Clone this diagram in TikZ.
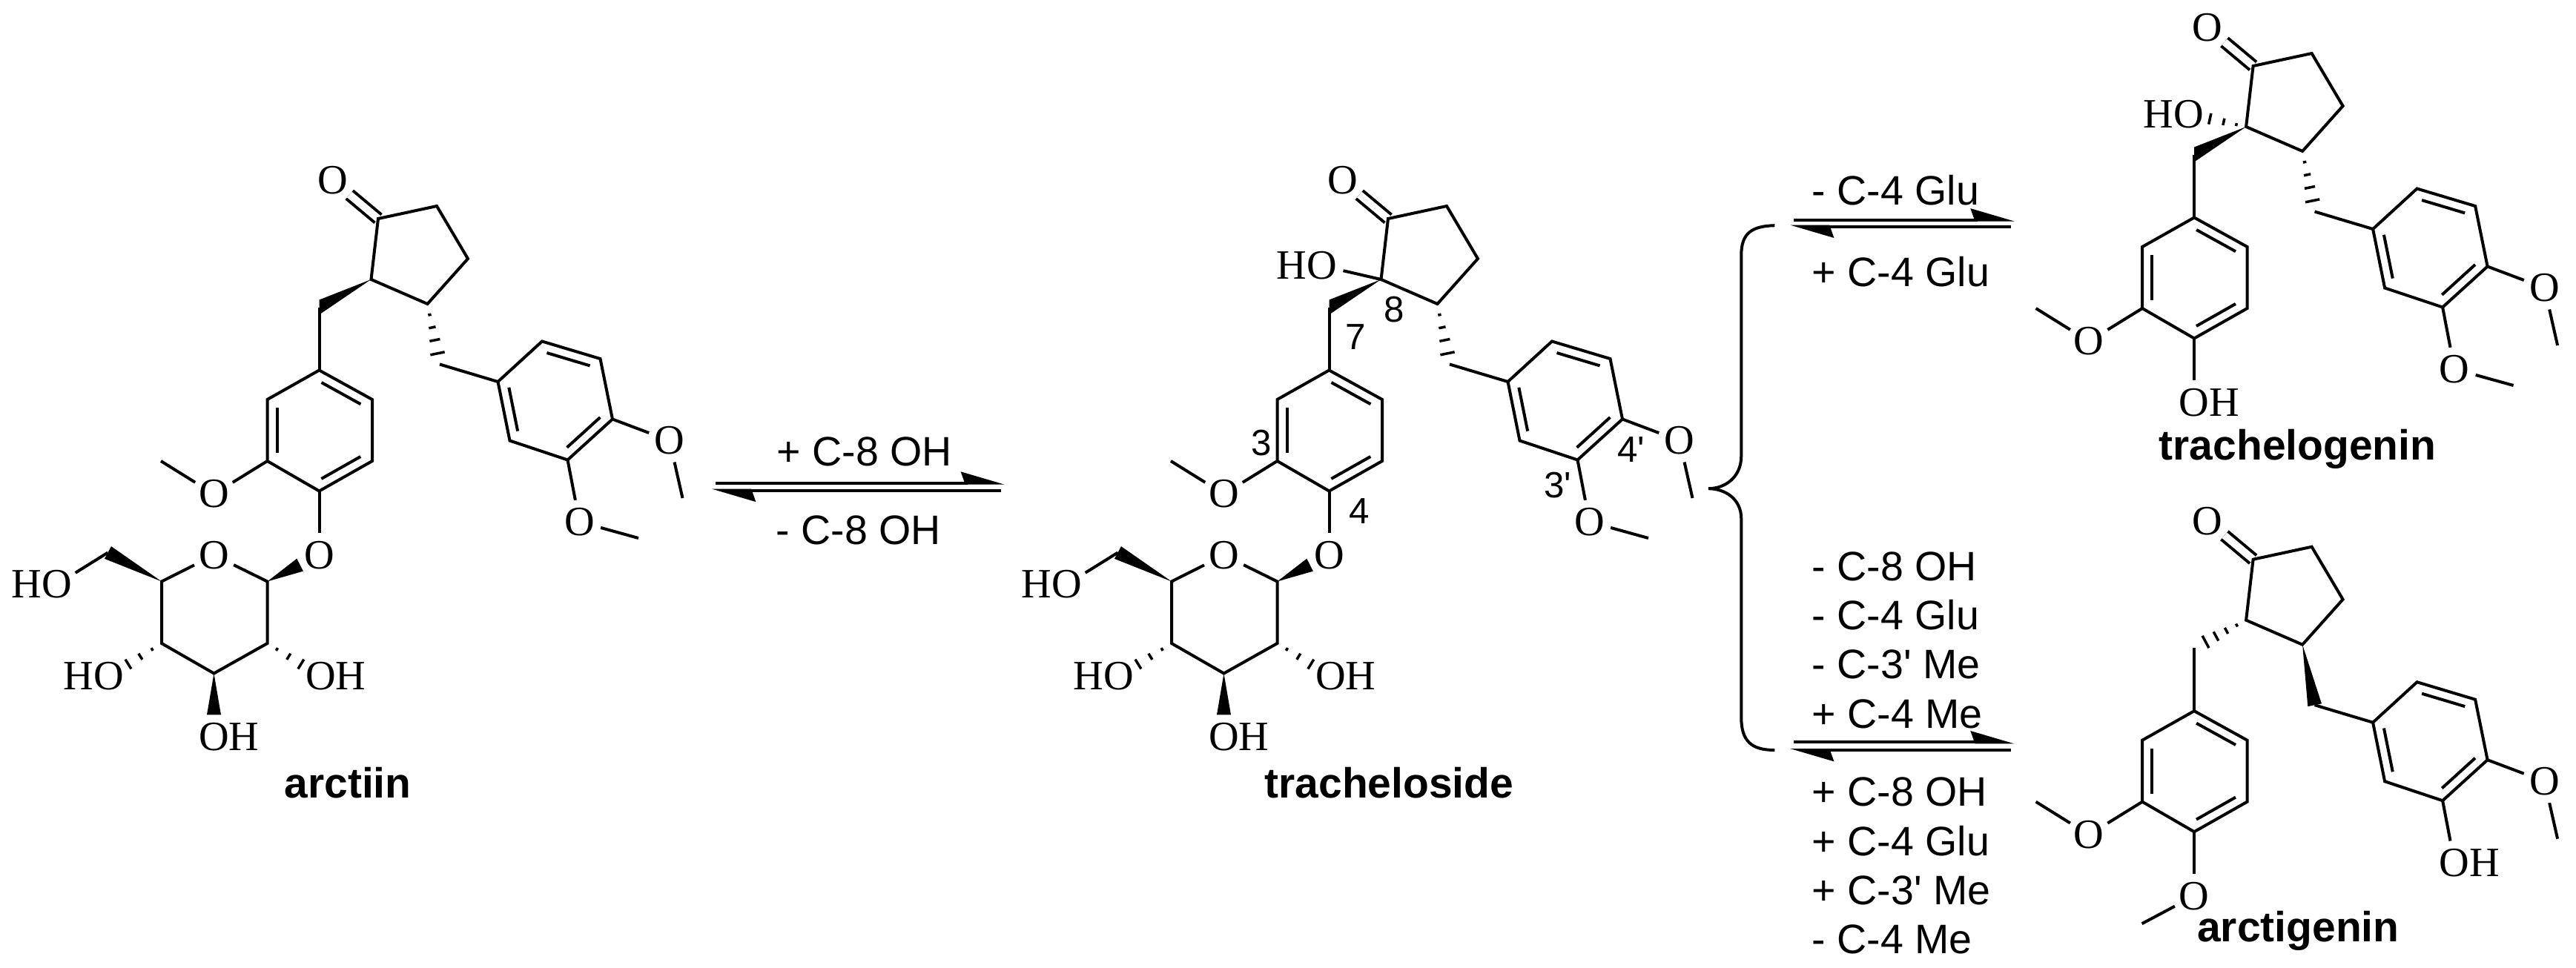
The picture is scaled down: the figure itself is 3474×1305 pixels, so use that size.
\documentclass[tikz,border=0pt]{standalone}
\usepackage{fontspec}
\setmainfont{Liberation Serif}
\setsansfont{Liberation Sans}
\usetikzlibrary{arrows.meta, calc, positioning}

% inner line of a ring double bond, ring walked clockwise
\newcommand{\innerbond}[2]{%
  \draw[bond] ($(#1)!.13!(#2)!.13cm!-90:(#2)$) -- ($(#2)!.13!(#1)!.13cm!90:(#1)$);}
\newcommand{\wedgebond}[3][1]{%
  \fill (#2) -- ($(#2)!#1!(#3)!.095cm!90:(#2)$) -- ($(#2)!#1!(#3)!.095cm!-90:(#2)$) -- cycle;}
\newcommand{\wedgeflat}[2]{%
  \fill (#1) -- ([yshift=.1cm]#2) -- ([yshift=-.1cm]#2) -- cycle;}
\newcommand{\hashbond}[3][.18,.39,.6,.82]{%
  \foreach \pos in {#1} {
    \pgfmathsetmacro{\hw}{3.4*\pos}
    \draw[hash] ($(#2)!\pos!(#3)!\hw pt!90:(#3)$) -- ($(#2)!\pos!(#3)!\hw pt!-90:(#3)$);
  }}

% the part all four molecules share
\newcommand{\lignan}{%
  \coordinate (C1) at (510,295);
  \coordinate (C2) at (589,278);
  \coordinate (C3) at (631,349);
  \coordinate (C4) at (576.5,410);
  \coordinate (C5) at (500.5,377);
  \coordinate (Ca) at (430.5,414.5);
  \coordinate (Cb) at (593,491.5);
  \coordinate (A1) at (430.5,499.5);
  \coordinate (A2) at (502,539);
  \coordinate (A3) at (502,622);
  \coordinate (A4) at (430.5,662.5);
  \coordinate (A5) at (360.5,622);
  \coordinate (A6) at (360.5,539);
  \coordinate (B1) at (671.5,515);
  \coordinate (B2) at (731,460.5);
  \coordinate (B3) at (809.5,484);
  \coordinate (B4) at (826,565.5);
  \coordinate (B5) at (765.5,620.5);
  \coordinate (B6) at (687.5,594.5);
  \coordinate (MeA) at (217,622);
  \coordinate (MeB) at (920.5,672);
  \node[atom] (Oket) at (448.5,243.5) {O};
  \node[atom] (OA5) at (288.5,666.5) {O};
  \node[atom] (OA4) at (430.5,749) {O};
  \node[atom] (OB4) at (903,594.5) {O};
  \node[atom] (OB5) at (781.5,704) {O};
  \draw[bond, double, double distance=.1cm] (C1) -- (Oket);
  \draw[bond] (C1) -- (C2) -- (C3) -- (C4) -- (C5) -- cycle;
  \draw[bond] (Ca) -- (A1);
  \draw[bond] (Cb) -- (B1);
  \draw[bond] (A1) -- (A2) -- (A3) -- (A4) -- (A5) -- (A6) -- cycle;
  \innerbond{A1}{A2}
  \innerbond{A3}{A4}
  \innerbond{A5}{A6}
  \draw[bond] (B1) -- (B2) -- (B3) -- (B4) -- (B5) -- (B6) -- cycle;
  \innerbond{B2}{B3}
  \innerbond{B4}{B5}
  \innerbond{B6}{B1}
  \draw[bond] (A5) -- (OA5);
  \draw[bond] (OA5) -- (MeA);
  \draw[bond] (A4) -- (OA4);
  \draw[bond] (B4) -- (OB4);
  \draw[bond] (OB4) -- (MeB);
  \draw[bond] (B5) -- (OB5);
}

% glucose hanging from the C-4 oxygen
\newcommand{\glucose}{%
  \coordinate (S1) at (360.5,784.5);
  \coordinate (S2) at (360.5,868);
  \coordinate (S3) at (288.5,908.5);
  \coordinate (S4) at (218,868);
  \coordinate (S5) at (218,784.5);
  \coordinate (S6) at (145.5,745.5);
  \node[atom] (Oring) at (288.5,749) {O};
  \node[atom] (O2) at (432.5,912.5) {O};
  \node[hatom, right=-.1cm of O2] (H2) {H};
  \node[atom] (O3) at (288.5,994.5) {O};
  \node[hatom, right=-.1cm of O3] (H3) {H};
  \node[atom] (O4) at (146.5,912.5) {O};
  \node[hatom, left=-.1cm of O4] (H4) {H};
  \node[atom] (O6) at (76.5,788.5) {O};
  \node[hatom, left=-.1cm of O6] (H6) {H};
  \draw[bond] (Oring) -- (S1) -- (S2) -- (S3) -- (S4) -- (S5) -- (Oring);
  \draw[bond] (S6) -- (O6);
  \wedgebond[.63]{S1}{OA4}
  \wedgebond{S5}{S6}
  \wedgebond[.65]{S3}{O3}
  \hashbond[.18,.4,.63]{S2}{O2}
  \hashbond[.18,.4,.63]{S4}{O4}
}

\begin{document}
\begin{tikzpicture}[
            x=0.01cm, y=-0.01cm,
            atom/.style={circle, inner sep=0pt, minimum size=.58cm, font=\fontsize{16}{18}\selectfont},
            hatom/.style={inner sep=0pt, font=\fontsize{16}{18}\selectfont},
            bond/.style={line width=.04cm},
            hash/.style={line width=.035cm},
            locant/.style={inner sep=0pt, font=\sffamily\fontsize{14}{16}\selectfont},
            change/.style={inner sep=0pt, anchor=west, align=left, font=\sffamily\fontsize{15.8}{18.8}\selectfont},
            cpdname/.style={inner sep=0pt, anchor=base, font=\sffamily\bfseries\fontsize{16.2}{19}\selectfont},
            equil/.style={line width=.04cm, -{Stealth[left, length=.52cm, width=.3cm, inset=.05cm]}},
            brace/.style={line width=.04cm}
        ]
        \useasboundingbox (0,0) rectangle (3474,1305);

        % arctiin
        \begin{scope}[name prefix=a-]
            \lignan
            \glucose
            \coordinate (MeC) at (861,726);
            \draw[bond] (OB5) -- (MeC);
            \wedgeflat{C5}{Ca}
            \hashbond{C4}{Cb}
            \node[cpdname] (arctiin) at (469,1076) {arctiin};
        \end{scope}

        % tracheloside
        \begin{scope}[shift={(1362,0)}, name prefix=t-]
            \lignan
            \glucose
            \coordinate (MeC) at (861,726);
            \node[atom] (OH8) at (420.5,358.5) {O};
            \node[hatom, left=-.1cm of OH8] (H8) {H};
            \draw[bond] (OB5) -- (MeC);
            \draw[bond] (C5) -- (OH8);
            \wedgeflat{C5}{Ca}
            \hashbond{C4}{Cb}
            \node[locant] (n8) at (518.5,418) {8};
            \node[locant] (n7) at (466.5,455) {7};
            \node[locant] (n3) at (339.5,598) {3};
            \node[locant] (n4) at (471,689.5) {4};
            \node[locant] (n4p) at (837.5,607) {4\textquotesingle};
            \node[locant] (n3p) at (738.5,654.5) {3\textquotesingle};
            \node[cpdname] (tracheloside) at (511.5,1076) {tracheloside};
        \end{scope}

        % trachelogenin
        \begin{scope}[shift={(2528.6,-206)}, name prefix=g-]
            \lignan
            \coordinate (MeC) at (861,726);
            \node[hatom, right=-.1cm of OA4] (HA4) {H};
            \node[atom] (OH8) at (423,360) {O};
            \node[hatom, left=-.1cm of OH8] (H8) {H};
            \draw[bond] (OB5) -- (MeC);
            \wedgeflat{C5}{Ca}
            \hashbond{C4}{Cb}
            \hashbond[.17,.39,.63]{C5}{OH8}
            \node[cpdname] (trachelogenin) at (570,826.8) {trachelogenin};
        \end{scope}

        % arctigenin
        \begin{scope}[shift={(2528.6,459.7)}, name prefix=r-]
            \lignan
            \coordinate (MeD) at (360,786.5);
            \node[hatom, right=-.1cm of OB5] (HB5) {H};
            \draw[bond] (OA4) -- (MeD);
            \hashbond[.18,.38,.58,.78]{C5}{Ca}
            \wedgebond{C4}{Cb}
            \node[cpdname] (arctigenin) at (570.7,811.1) {arctigenin};
        \end{scope}

        % equilibrium in the middle
        \coordinate (m1) at (965,651.7);
        \coordinate (m2) at (1355,651.7);
        \coordinate (m3) at (1350,661.7);
        \coordinate (m4) at (960,661.7);
        \draw[equil] (m1) -- (m2);
        \draw[equil] (m3) -- (m4);
        \node[change] (addoh) at (1047,609.5) {+ C-8 OH};
        \node[change] (lossoh) at (1046,715.5) {- C-8 OH};

        % brace
        \coordinate (tip) at (2304,659.2);
        \coordinate (bt) at (2393.3,304.2);
        \coordinate (bb) at (2393.3,1012);
        \draw[brace] (bt) .. controls (2362,305) and (2348.3,315) .. (2348.3,344)
            -- (2348.3,615) .. controls (2348.3,645) and (2325,659.2) .. (tip)
            .. controls (2325,659.2) and (2348.3,672) .. (2348.3,700)
            -- (2348.3,968) .. controls (2348.3,1000) and (2362,1012) .. (bb);

        % upper equilibrium
        \coordinate (u1) at (2419.3,296.5);
        \coordinate (u2) at (2716.7,296.5);
        \coordinate (u3) at (2711.7,305.6);
        \coordinate (u4) at (2414,305.6);
        \draw[equil] (u1) -- (u2);
        \draw[equil] (u3) -- (u4);
        \node[change] (lossglu) at (2443,256.3) {- C-4 Glu};
        \node[change] (addglu) at (2443,366.9) {+ C-4 Glu};

        % lower equilibrium
        \coordinate (l1) at (2419.3,1001.4);
        \coordinate (l2) at (2716.7,1001.4);
        \coordinate (l3) at (2711.7,1012);
        \coordinate (l4) at (2414,1012);
        \draw[equil] (l1) -- (l2);
        \draw[equil] (l3) -- (l4);
        \node[change] (forward) at (2443,863.7) {- C-8 OH\\- C-4 Glu\\- C-3\textquotesingle{} Me\\+ C-4 Me};
        \node[change] (backward) at (2443,1168) {+ C-8 OH\\+ C-4 Glu\\+ C-3\textquotesingle{} Me\\- C-4 Me};

    \end{tikzpicture}
\end{document}
